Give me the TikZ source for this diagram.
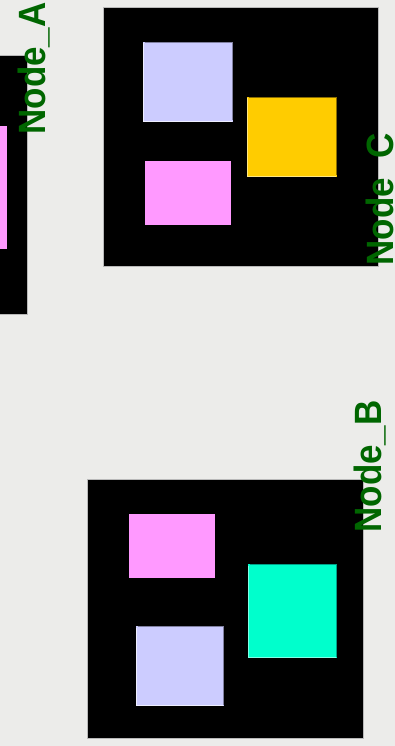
\documentclass[tikz,border=0pt]{standalone}
\usepackage{fontspec}
\setmainfont{Liberation Sans}
\definecolor{bg}{RGB}{236,236,234}
\definecolor{labelgreen}{RGB}{0,102,0}
\definecolor{lavender}{HTML}{CCCCFF}
\definecolor{pinkfill}{HTML}{FF99FF}
\definecolor{goldfill}{HTML}{FFCC00}
\definecolor{cyanfill}{HTML}{00FFCC}
\definecolor{lavdark}{HTML}{8080A0}
\definecolor{lavlight}{HTML}{EEEEFF}
\definecolor{golddark}{HTML}{8A6C00}
\definecolor{goldlight}{HTML}{FFE680}
\definecolor{cyandark}{HTML}{00A088}
\definecolor{cyanlight}{HTML}{80FFE6}
\newcommand\bevelrect[7]{%
  \fill[#5] (#1,#2) rectangle (#3,#4);
  \draw[#6, line width=1.2pt] (#1+1.5,#2+0.6) -- (#3-0.6,#2+0.6) -- (#3-0.6,#4-1.5);
  \draw[#7, line width=1.2pt] (#1+0.6,#2+1.5) -- (#1+0.6,#4-0.6) -- (#3-1.5,#4-0.6);
}
\tikzset{
  outerbox/.style={fill=black, draw=gray!55, line width=0.8pt},
  nodelabel/.style={font=\bfseries\fontsize{38}{38}\selectfont, text=labelgreen,
    rotate=90, anchor=base west, inner sep=0pt, outer sep=0pt}
}
\begin{document}
\begin{tikzpicture}[x=1pt,y=-1pt]
\useasboundingbox (0,0) rectangle (395,746);
\fill[bg] (0,0) rectangle (395,746);
\clip (0,0) rectangle (395,746);
% Node A (partly outside)
\filldraw[outerbox] (-5,55) rectangle (27,314);
\fill[pinkfill] (-5,126) rectangle (7,249);
% Node C
\filldraw[outerbox] (103,7) rectangle (378,266);
\bevelrect{143}{42}{233}{122}{lavender}{lavdark}{lavlight}
\bevelrect{247}{97}{337}{177}{goldfill}{golddark}{goldlight}
\fill[pinkfill] (145,161) rectangle (231,225);
% Node B
\filldraw[outerbox] (87,479) rectangle (363,738);
\fill[pinkfill] (129,514) rectangle (215,578);
\bevelrect{248}{564}{337}{658}{cyanfill}{cyandark}{cyanlight}
\bevelrect{136}{626}{224}{706}{lavender}{lavdark}{lavlight}
% labels
\node[nodelabel] (labA) at (45,134.5) {\scalebox{0.92}[1]{Node\_A}};
\node[nodelabel] (labC) at (393,265.5) {\scalebox{0.92}[1]{Node\_C}};
\node[nodelabel] (labB) at (381,532.5) {\scalebox{0.92}[1]{Node\_B}};
\end{tikzpicture}
\end{document}
